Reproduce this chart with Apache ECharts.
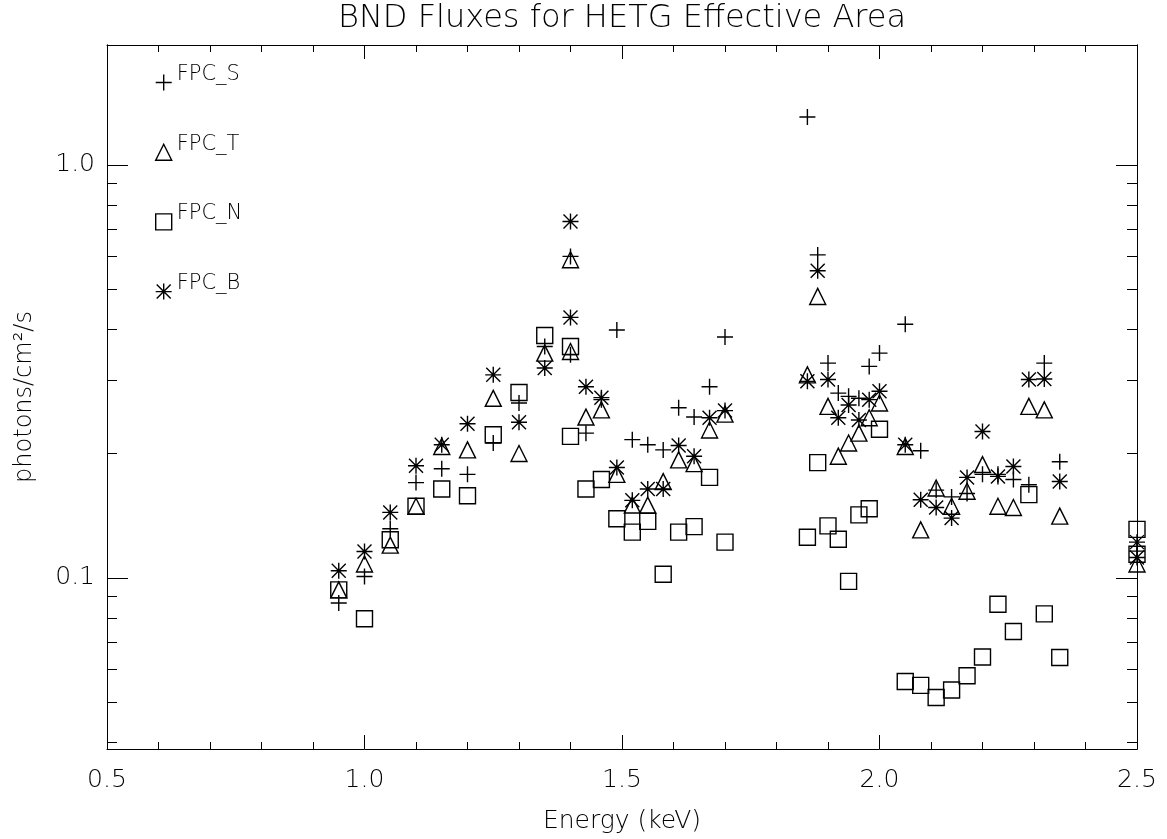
<!DOCTYPE html>
<html>
<head>
<meta charset="utf-8">
<script src="https://cdn.jsdelivr.net/npm/echarts@6.0.0/dist/echarts.min.js"></script>
<style>
html,body{margin:0;padding:0;background:#fff;}
#chart{width:1167px;height:839px;}
</style>
</head>
<body>
<div id="chart"></div>
<script>
// ---- data ----
const titleText = 'BND Fluxes for HETG Effective Area';
const xTitle = 'Energy (keV)';
const yTitle = 'photons/cm\u00B2/s';
const seriesNames = ['FPC_S', 'FPC_T', 'FPC_N', 'FPC_B'];

const energyS = [0.95,1.00,1.05,1.10,1.15,1.20,1.25,1.30,1.35,1.40,1.40,1.43,1.46,1.49,1.52,1.55,1.58,1.61,1.64,1.67,1.70,
  1.86,1.88,1.90,1.92,1.94,1.96,1.98,2.00,2.05,2.08,2.11,2.14,2.17,2.20,2.23,2.26,2.29,2.32,2.35,2.50];
const fluxS = [0.0869,0.1007,0.1315,0.170,0.1836,0.178,0.212,0.265,0.363,0.600,0.347,0.224,0.270,0.398,0.216,0.210,0.204,0.258,0.245,0.290,0.383,
  1.305,0.605,0.331,0.280,0.275,0.272,0.325,0.350,0.411,0.203,0.163,0.157,0.160,0.178,0.178,0.173,0.168,0.331,0.191,0.116];

const energyT = [0.95,1.00,1.05,1.10,1.15,1.20,1.25,1.30,1.35,1.40,1.40,1.43,1.46,1.49,1.52,1.55,1.58,1.61,1.64,1.67,1.70,
  1.86,1.88,1.90,1.92,1.94,1.96,1.98,2.00,2.05,2.08,2.11,2.14,2.17,2.20,2.23,2.26,2.29,2.32,2.35,2.50];
const fluxT = [0.0935,0.108,0.120,0.149,0.208,0.204,0.272,0.200,0.350,0.589,0.353,0.245,0.255,0.178,0.150,0.150,0.171,0.193,0.189,0.228,0.249,
  0.310,0.480,0.260,0.197,0.212,0.224,0.244,0.265,0.208,0.1306,0.165,0.149,0.162,0.188,0.149,0.148,0.260,0.255,0.141,0.108];

const energyN = [0.95,1.00,1.05,1.10,1.15,1.20,1.25,1.30,1.35,1.40,1.40,1.43,1.46,1.49,1.52,1.55,1.58,1.61,1.64,1.67,1.70,
  1.86,1.88,1.90,1.92,1.94,1.96,1.98,2.00,2.05,2.08,2.11,2.14,2.17,2.20,2.23,2.26,2.29,2.32,2.35,2.50,2.50];
const fluxN = [0.0935,0.0796,0.1236,0.149,0.164,0.158,0.222,0.281,0.386,0.363,0.220,0.164,0.173,0.139,0.129,0.137,0.102,0.129,0.133,0.175,0.122,
  0.1254,0.190,0.1336,0.124,0.098,0.142,0.147,0.229,0.0561,0.0549,0.0513,0.0535,0.0579,0.0643,0.0863,0.0741,0.159,0.0818,0.0641,0.131,0.114];

const energyB = [0.95,1.00,1.05,1.10,1.15,1.20,1.25,1.30,1.35,1.40,1.40,1.43,1.46,1.49,1.52,1.55,1.58,1.61,1.64,1.67,1.70,
  1.86,1.88,1.90,1.92,1.94,1.96,1.98,2.00,2.05,2.08,2.11,2.14,2.17,2.20,2.23,2.26,2.29,2.32,2.35,2.50,2.50];
const fluxB = [0.104,0.1158,0.144,0.1867,0.210,0.236,0.310,0.238,0.322,0.729,0.427,0.290,0.273,0.185,0.154,0.164,0.164,0.209,0.197,0.244,0.254,
  0.299,0.554,0.302,0.244,0.262,0.241,0.270,0.283,0.210,0.1545,0.148,0.1395,0.175,0.226,0.176,0.186,0.302,0.303,0.171,0.122,0.112];

const xTicks = [0.5, 1.0, 1.5, 2.0, 2.5];
const yMajorTicks = [0.1, 1.0];
const yMinorTicks = [0.04,0.05,0.06,0.07,0.08,0.09,0.2,0.3,0.4,0.5,0.6,0.7,0.8,0.9];
const yRange = [0.0385, 1.95];

// ---- chart ----
const FONT = 'DejaVu Sans';
const FW = 200;
const symbols = {
  plus: 'path://M0,-8L0,8M-8,0L8,0',
  triangle: 'path://M0,-8L8,8L-8,8Z',
  square: 'path://M-8,-8L8,-8L8,8L-8,8Z',
  asterisk: 'path://M0,-8L0,8M-8,0L8,0M-7,-7L7,7M-7,7L7,-7'
};
function pairs(e, f) { return e.map((v, i) => [v, f[i]]); }
const seriesDefs = [
  [seriesNames[0], symbols.plus, energyS, fluxS],
  [seriesNames[1], symbols.triangle, energyT, fluxT],
  [seriesNames[2], symbols.square, energyN, fluxN],
  [seriesNames[3], symbols.asterisk, energyB, fluxB]
];

const chart = echarts.init(document.getElementById('chart'), null, {renderer: 'canvas'});
const blk = '#000';
function xAx(pos, showLabel, extra) {
  return Object.assign({
    type: 'value', position: pos, min: xTicks[0], max: xTicks[xTicks.length - 1], interval: 0.5,
    axisLine: {show: true, onZero: false, lineStyle: {color: blk, width: 1}},
    axisTick: {show: true, inside: true, length: 14, lineStyle: {color: blk, width: 1}},
    minorTick: {show: true, splitNumber: 5, length: 7, lineStyle: {color: blk, width: 1}},
    splitLine: {show: false}, minorSplitLine: {show: false},
    axisLabel: {show: showLabel, fontFamily: FONT, fontWeight: FW, fontSize: 25, color: blk, margin: 19,
      formatter: v => v.toFixed(1)}
  }, extra || {});
}
function yAx(pos, ticks, len, showLabel, extra) {
  return Object.assign({
    type: 'log', logBase: 10, position: pos, min: yRange[0], max: yRange[1],
    axisLine: {show: true, onZero: false, lineStyle: {color: blk, width: 1}},
    axisTick: {show: true, inside: true, length: len, customValues: ticks, lineStyle: {color: blk, width: 1}},
    splitLine: {show: false}, minorTick: {show: false},
    axisLabel: {show: showLabel, customValues: yMajorTicks, fontFamily: FONT, fontWeight: FW, fontSize: 25, color: blk, margin: 12,
      formatter: v => Number(v).toFixed(1)}
  }, extra || {});
}

const option = {
  backgroundColor: '#fff',
  animation: false,
  title: {
    text: titleText, left: 617, top: -2, textAlign: 'center',
    textStyle: {fontFamily: FONT, fontSize: 32, fontWeight: FW, color: blk}
  },
  legend: {
    orient: 'vertical', left: 150, top: 59, itemWidth: 16, itemHeight: 16, itemGap: 42.5,
    selectedMode: false, data: seriesNames,
    itemStyle: {color: 'transparent', borderColor: blk, borderWidth: 1.4},
    formatter: '{t|{name}}',
    textStyle: {color: blk, rich: {t: {fontFamily: FONT, fontWeight: FW, fontSize: 21, color: blk, padding: [0, 0, 16, 0]}}}
  },
  grid: {left: 107, right: 30, top: 45, bottom: 90, containLabel: false, outerBoundsMode: 'none'},
  xAxis: [
    xAx('bottom', true, {name: xTitle, nameLocation: 'middle', nameGap: 60,
      nameTextStyle: {fontFamily: FONT, fontWeight: FW, fontSize: 25, color: blk}}),
    xAx('top', false)
  ],
  yAxis: [
    yAx('left', yMajorTicks, 21, true, {name: yTitle, nameLocation: 'middle', nameGap: 70,
      nameTextStyle: {fontFamily: FONT, fontWeight: FW, fontSize: 24, color: blk}}),
    yAx('left', yMinorTicks, 10, false),
    yAx('right', yMajorTicks, 21, false),
    yAx('right', yMinorTicks, 10, false)
  ],
  series: seriesDefs.map(d => ({
    name: d[0], type: 'scatter', xAxisIndex: 0, yAxisIndex: 0,
    symbol: d[1], symbolSize: 16, clip: true,
    itemStyle: {color: 'transparent', borderColor: blk, borderWidth: 1.4, opacity: 1},
    emphasis: {disabled: true},
    data: pairs(d[2], d[3])
  }))
};
chart.setOption(option);
</script>
</body>
</html>
